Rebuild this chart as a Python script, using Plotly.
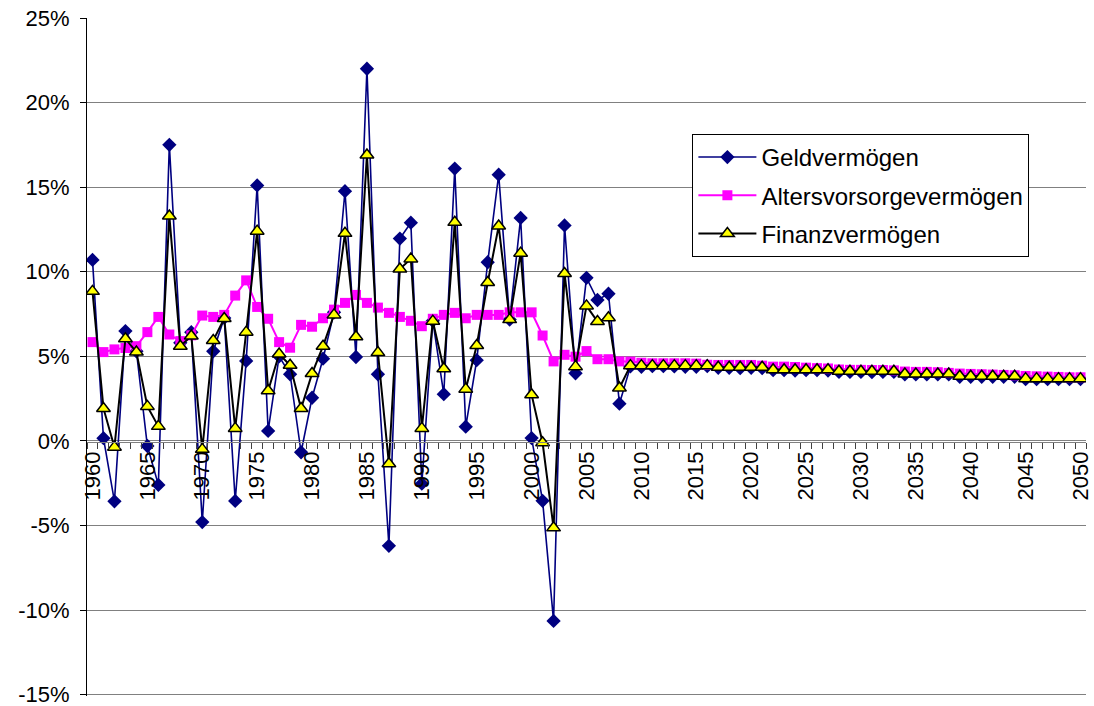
import plotly.graph_objects as go

years = list(range(1960, 2051))
tick_years = [1960, 1965, 1970, 1975, 1980, 1985, 1990, 1995, 2000, 2005,
              2010, 2015, 2020, 2025, 2030, 2035, 2040, 2045, 2050]
tick_labels = [str(y) for y in tick_years]
y_ticks = [-15, -10, -5, 0, 5, 10, 15, 20, 25]
y_labels = ["-15%", "-10%", "-5%", "0%", "5%", "10%", "15%", "20%", "25%"]

# Geldvermögen (1960-2050), percent
geld = [10.7, 0.16, -3.57, 6.49, 5.3, -0.3, -2.6, 17.5, 5.8, 6.43,
        -4.8, 5.3, 7.27, -3.55, 4.73, 15.1, 0.59, 5.0, 3.94, -0.67,
        2.55, 4.86, 7.6, 14.76, 4.96, 22.0, 3.94, -6.2, 11.96, 12.9,
        -2.53, 7.1, 2.76, 16.1, 0.84, 4.77, 10.56, 15.74, 7.17, 13.18,
        0.17, -3.54, -10.64, 12.74, 4.0, 9.64, 8.33, 8.7, 2.2,
        4.4, 4.38, 4.42, 4.42, 4.4, 4.38, 4.38, 4.42,
        4.32, 4.32, 4.3, 4.32, 4.3,
        4.18, 4.18, 4.16, 4.18, 4.18, 4.16,
        4.08, 4.08, 4.08, 4.06, 4.08, 4.08,
        3.93, 3.93, 3.93, 3.93, 3.93,
        3.79, 3.79, 3.79, 3.79, 3.79, 3.79,
        3.65, 3.65, 3.65, 3.65, 3.65, 3.65]

# Altersvorsorgevermögen (1960-2050), percent
alters = [5.84, 5.25, 5.41, 5.49, 5.6, 6.43, 7.33, 6.29, 5.9, 6.24,
          7.41, 7.33, 7.45, 8.59, 9.49, 7.92, 7.22, 5.84, 5.51, 6.86,
          6.75, 7.25, 7.76, 8.16, 8.63, 8.16, 7.88, 7.57, 7.33, 7.1,
          6.78, 7.22, 7.45, 7.57, 7.25, 7.45, 7.45, 7.45, 7.6, 7.6,
          7.6, 6.23, 4.7, 5.09, 4.98, 5.31, 4.83, 4.83, 4.7,
          4.69, 4.62, 4.59, 4.59, 4.59, 4.59, 4.57, 4.5,
          4.49, 4.49, 4.49, 4.49, 4.45,
          4.39, 4.39, 4.37, 4.33, 4.3, 4.28,
          4.22, 4.2, 4.2, 4.19, 4.19, 4.17,
          4.1, 4.08, 4.08, 4.06, 4.02,
          3.98, 3.96, 3.94, 3.92, 3.9, 3.88,
          3.84, 3.82, 3.8, 3.78, 3.76, 3.76]

# Finanzvermögen (1960-2050), percent
finanz = [8.84, 1.92, -0.37, 6.04, 5.25, 2.04, 0.86, 13.3, 5.6, 6.2,
          -0.5, 5.94, 7.24, 0.74, 6.43, 12.4, 2.96, 5.14, 4.47, 1.92,
          3.98, 5.6, 7.45, 12.27, 6.16, 16.9, 5.22, -1.35, 10.16, 10.76,
          0.74, 7.08, 4.27, 12.92, 3.06, 5.64, 9.36, 12.7, 7.17, 11.1,
          2.73, -0.11, -5.14, 9.9, 4.39, 7.98, 7.06, 7.28, 3.13,
          4.45, 4.45, 4.45, 4.45, 4.45, 4.45, 4.45, 4.45,
          4.35, 4.35, 4.35, 4.35, 4.35,
          4.21, 4.21, 4.21, 4.21, 4.21, 4.21,
          4.12, 4.12, 4.12, 4.12, 4.12, 4.12,
          3.96, 3.96, 3.96, 3.96, 3.96,
          3.82, 3.82, 3.82, 3.82, 3.82, 3.82,
          3.68, 3.68, 3.68, 3.68, 3.68, 3.68]

names = ["Geldvermögen", "Altersvorsorgevermögen", "Finanzvermögen"]

FONT = "Liberation Sans, Arial, sans-serif"

fig = go.Figure()
fig.add_trace(go.Scatter(
    x=years, y=geld, name=names[0], mode="lines+markers", legendgroup="a",
    line=dict(color="#000080", width=1.6),
    marker=dict(symbol="diamond", size=11, color="#000080",
                line=dict(width=0))))
fig.add_trace(go.Scatter(
    x=years, y=alters, name=names[1], mode="lines+markers", legendgroup="b",
    line=dict(color="#FF00FF", width=2),
    marker=dict(symbol="square", size=10, color="#FF00FF",
                line=dict(width=0))))
fig.add_trace(go.Scatter(
    x=years, y=finanz, name=names[2], mode="lines+markers", legendgroup="c",
    line=dict(color="#000000", width=2),
    marker=dict(symbol="triangle-up", size=12, color="#FFFF00",
                line=dict(color="#000000", width=1.5))))

minor_vals = [y - 0.5 for y in years] + [2050.5]

fig.update_layout(
    width=1094, height=706,
    margin=dict(l=87, r=8, t=18, b=10, autoexpand=False),
    paper_bgcolor="white", plot_bgcolor="white",
    font=dict(family=FONT, size=22, color="black"),
    showlegend=True,
    legend=dict(
        x=0.606, y=0.829, xanchor="left", yanchor="top",
        bgcolor="white", bordercolor="black", borderwidth=1,
        font=dict(family=FONT, size=24, color="black"),
        itemwidth=58, tracegroupgap=4,
    ),
    xaxis=dict(
        range=[1959.5, 2050.5], automargin=False,
        anchor="free", position=0.375,
        showgrid=False, zeroline=False,
        showline=True, linecolor="#808080", linewidth=1,
        tickmode="array", tickvals=tick_years, ticktext=tick_labels,
        tickangle=-90, ticks="", ticklabeloverflow="allow",
        tickfont=dict(family=FONT, size=22, color="black"),
        minor=dict(tickmode="array", tickvals=minor_vals, ticks="outside",
                   ticklen=6, tickwidth=1, tickcolor="#404040", showgrid=False),
    ),
    yaxis=dict(
        range=[-15.08, 25], automargin=False,
        tickmode="array", tickvals=y_ticks, ticktext=y_labels,
        showgrid=True, gridcolor="#808080", gridwidth=1,
        zeroline=False,
        showline=True, linecolor="black", linewidth=1,
        ticks="outside", ticklen=6, tickcolor="black",
        tickfont=dict(family=FONT, size=22, color="black"),
        ticklabelstandoff=6, ticklabeloverflow="allow",
    ),
)

fig.write_html("out.html", config={"displayModeBar": False},
               post_script="document.body.style.margin='0px';")
